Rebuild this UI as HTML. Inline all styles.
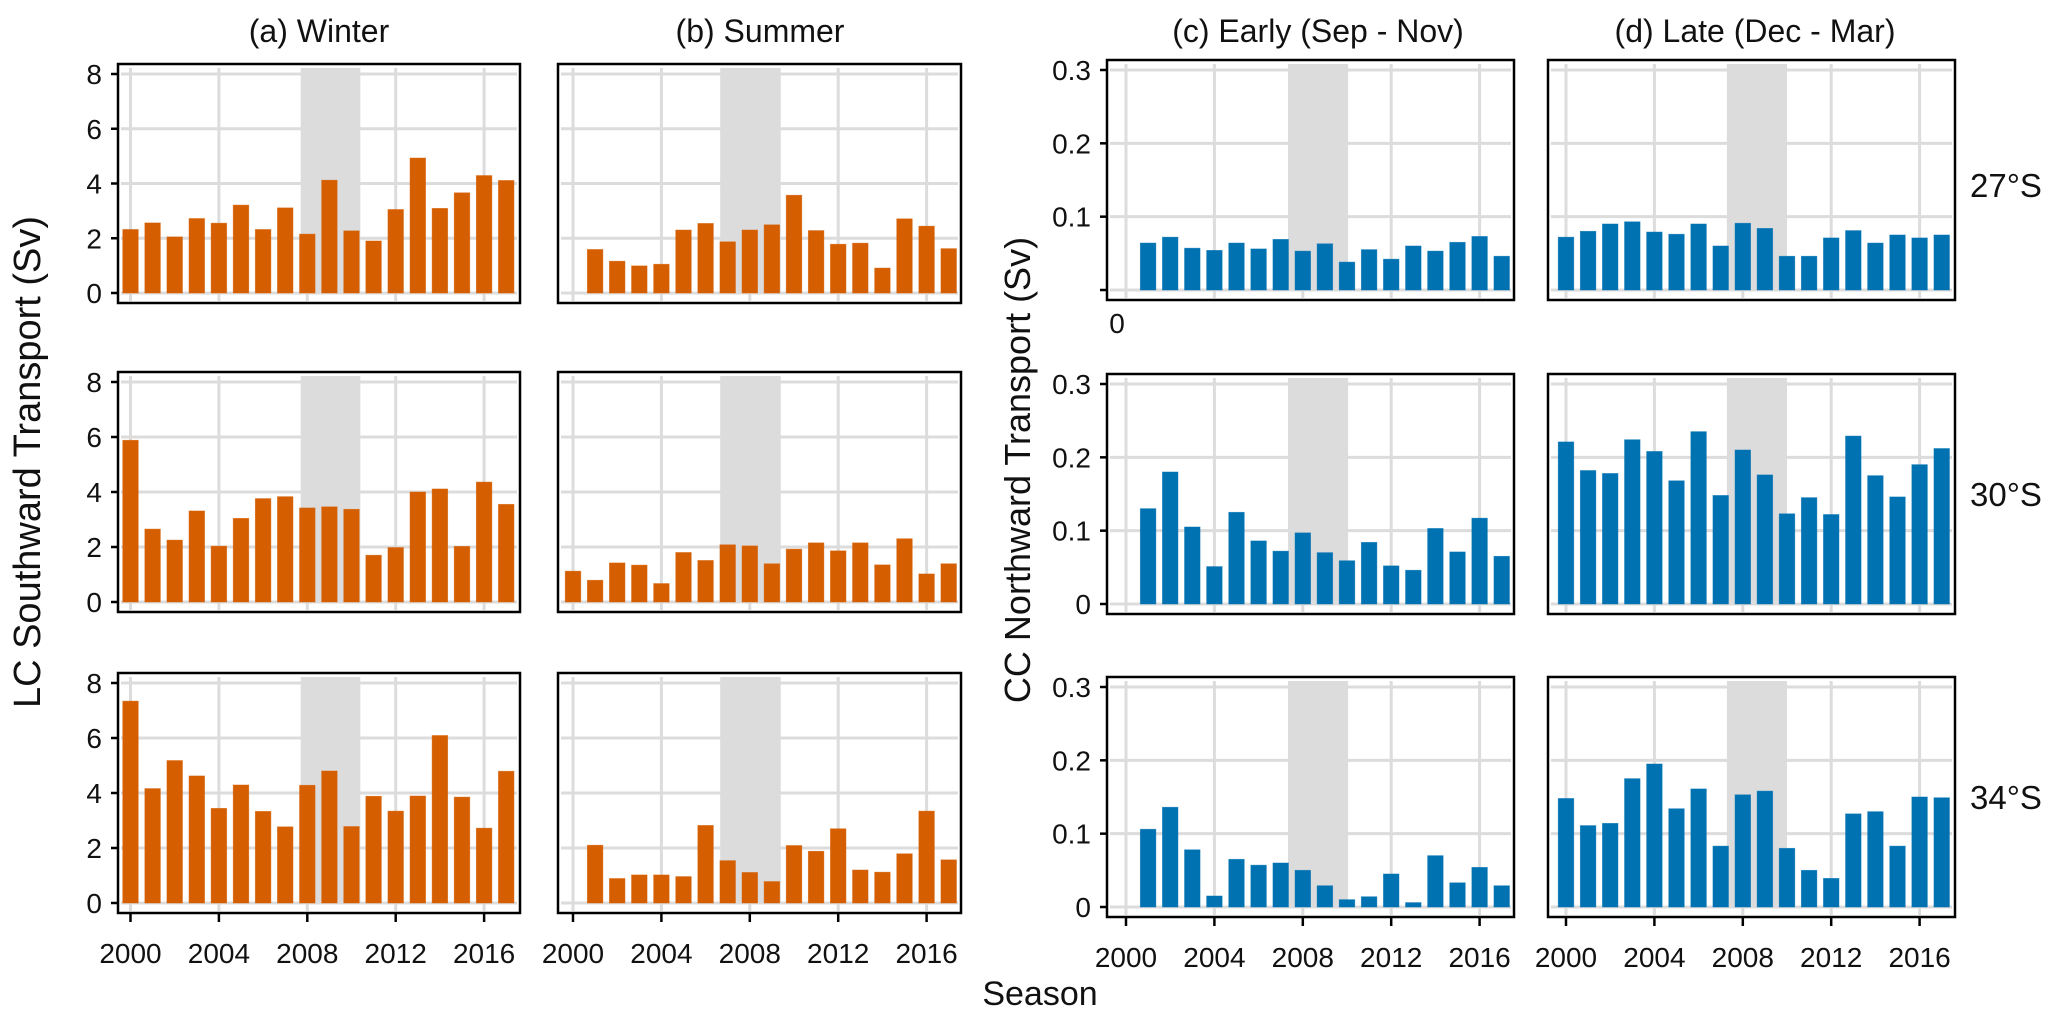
<!DOCTYPE html>
<html>
<head>
<meta charset="utf-8">
<style>
  html,body{margin:0;padding:0;background:#fff;}
  body{width:2067px;height:1022px;overflow:hidden;font-family:"Liberation Sans",Arial,sans-serif;}
  svg text{font-family:"Liberation Sans",Arial,sans-serif;fill:#111;}
</style>
</head>
<body>
<svg id="chart" width="2067" height="1022" viewBox="0 0 2067 1022" xmlns="http://www.w3.org/2000/svg">
  <text x="319" y="42" font-size="32" text-anchor="middle">(a) Winter</text>
  <text x="760" y="42" font-size="32" text-anchor="middle">(b) Summer</text>
  <text x="1318" y="42" font-size="32" text-anchor="middle">(c) Early (Sep - Nov)</text>
  <text x="1755" y="42" font-size="32" text-anchor="middle">(d) Late (Dec - Mar)</text>
  <text x="1970" y="197" font-size="33">27°S</text>
  <text x="1970" y="506" font-size="33">30°S</text>
  <text x="1970" y="809" font-size="33">34°S</text>
  <text x="0" y="0" font-size="38" text-anchor="middle" transform="translate(40,462) rotate(-90)">LC Southward Transport (Sv)</text>
  <text x="0" y="0" font-size="36" text-anchor="middle" transform="translate(1030,470) rotate(-90)">CC Northward Transport (Sv)</text>
  <text x="1040" y="1005" font-size="34" text-anchor="middle">Season</text>
  <text x="1117" y="333" font-size="28" text-anchor="middle">0</text>
  <g id="panels"></g>
</svg>
<script>
// ---- data ----
const winter27 = [2.32,2.56,2.05,2.72,2.55,3.21,2.32,3.11,2.15,4.12,2.27,1.90,3.05,4.93,3.09,3.66,4.29,4.11];
const winter30 = [5.88,2.65,2.25,3.31,2.03,3.04,3.76,3.83,3.42,3.46,3.37,1.70,1.98,4.00,4.11,2.02,4.36,3.55];
const winter34 = [7.34,4.16,5.18,4.62,3.44,4.29,3.33,2.77,4.28,4.80,2.78,3.88,3.34,3.89,6.09,3.85,2.72,4.79];
const summer27 = [1.59,1.16,0.99,1.05,2.30,2.54,1.87,2.30,2.49,3.57,2.28,1.78,1.82,0.91,2.71,2.44,1.62];
const summer30 = [1.12,0.79,1.42,1.34,0.67,1.80,1.51,2.08,2.04,1.39,1.92,2.15,1.86,2.15,1.35,2.30,1.02,1.39];
const summer34 = [2.10,0.89,1.02,1.02,0.96,2.82,1.54,1.11,0.78,2.09,1.88,2.70,1.20,1.12,1.79,3.34,1.57];
const early27 = [0.064,0.072,0.057,0.054,0.064,0.056,0.069,0.053,0.063,0.038,0.055,0.042,0.060,0.053,0.065,0.073,0.046];
const early30 = [0.130,0.180,0.105,0.051,0.125,0.086,0.072,0.097,0.070,0.059,0.084,0.052,0.046,0.103,0.071,0.117,0.065];
const early34 = [0.106,0.136,0.078,0.015,0.065,0.057,0.060,0.050,0.029,0.010,0.014,0.045,0.006,0.070,0.033,0.054,0.029];
const late27 = [0.072,0.080,0.090,0.093,0.079,0.076,0.090,0.060,0.091,0.084,0.046,0.046,0.071,0.081,0.064,0.075,0.071,0.075];
const late30 = [0.221,0.182,0.178,0.224,0.208,0.168,0.235,0.148,0.210,0.176,0.123,0.145,0.122,0.229,0.175,0.146,0.190,0.212];
const late34 = [0.148,0.111,0.114,0.175,0.195,0.134,0.161,0.083,0.153,0.158,0.080,0.050,0.039,0.127,0.130,0.083,0.150,0.149];
const startYears = {winter:2000, summer27:2001, summer30:2000, summer34:2001, early:2001, late:2000};
const xTickYears = [2000,2004,2008,2012,2016];
const lcTicks = [0,2,4,6,8];
const lcTickLabels = ["0","2","4","6","8"];
const ccTicks = [0,0.1,0.2,0.3];
const ccTickLabels = ["","0.1","0.2","0.3"];
const ccTickLabelsLower = ["0","0.1","0.2","0.3"];
const bandWinter = [2007.7,2010.4];
const bandSummer = [2006.66,2009.4];
const bandEarly = [2007.33,2010.05];
const bandLate = [2007.28,2010.0];

// ---- layout ----
const NS = "http://www.w3.org/2000/svg";
const root = document.getElementById('panels');
const cols = {
  a:{L:118,R:520,x0:130.5,p:22.1},
  b:{L:558,R:961,x0:573,p:22.1},
  c:{L:1107,R:1514,x0:1126,p:22.1},
  d:{L:1548,R:1955,x0:1566,p:22.1}
};
const rowsLC = [{yTop:74,y0:293},{yTop:382,y0:602},{yTop:683,y0:903}];
const rowsCC = [{yTop:70,y0:290},{yTop:384,y0:604},{yTop:687,y0:907}];

function mk(tag, attrs){
  const e = document.createElementNS(NS, tag);
  for (const k in attrs) e.setAttribute(k, attrs[k]);
  return e;
}

function drawPanel(name, col, row, vals, start, color, band, ticks, tickMax, labels, showX, bw){
  const g = mk('g', {});
  
  
  root.appendChild(g);
  const top = row.yTop - 10, bottom = row.y0 + 10;
  const ys = v => row.y0 - (v / tickMax) * (row.y0 - row.yTop);
  const xs = yr => col.x0 + (yr - 2000) * col.p;
  for (const t of ticks){
    const l = mk('line', {x1:col.L+3, x2:col.R-3, y1:ys(t), y2:ys(t), stroke:'#dcdcdc', 'stroke-width':3});
    
    
    g.appendChild(l);
  }
  for (const yr of xTickYears){
    const l = mk('line', {x1:xs(yr), x2:xs(yr), y1:top+4, y2:bottom-2, stroke:'#dcdcdc', 'stroke-width':3});
    
    
    g.appendChild(l);
  }
  const b = mk('rect', {x:xs(band[0]), y:top+4, width:xs(band[1])-xs(band[0]), height:row.y0-top-4, fill:'#dcdcdc'});
  
  
  g.appendChild(b);
  vals.forEach((v, i) => {
    const yr = start + i;
    const r = mk('rect', {x:xs(yr)-bw/2, y:ys(v), width:bw, height:row.y0-ys(v), fill:color, stroke:color, 'stroke-opacity':0.6, 'stroke-width':0.8});
    
    
    g.appendChild(r);
  });
  const br = mk('rect', {x:col.L, y:top, width:col.R-col.L, height:bottom-top, fill:'none', stroke:'#000', 'stroke-width':2.5});
  
  
  g.appendChild(br);
  if (labels){
    ticks.forEach((t, i) => {
      const tk = mk('line', {x1:col.L-7, x2:col.L, y1:ys(t), y2:ys(t), stroke:'#000', 'stroke-width':2.5});
      
      
      g.appendChild(tk);
      if (labels[i]){
        const tx = mk('text', {x:col.L-16, y:ys(t)+10, 'font-size':28, 'text-anchor':'end'});
        tx.textContent = labels[i];
        
        
        g.appendChild(tx);
      }
    });
  }
  if (showX){
    for (const yr of xTickYears){
      const tk = mk('line', {x1:xs(yr), x2:xs(yr), y1:bottom, y2:bottom+9, stroke:'#000', 'stroke-width':2.5});
      
      
      g.appendChild(tk);
      const tx = mk('text', {x:xs(yr), y:bottom+50, 'font-size':28, 'text-anchor':'middle'});
      tx.textContent = String(yr);
      
      
      g.appendChild(tx);
    }
  }
}

const ORANGE = '#d55e00', BLUE = '#0072b2';
drawPanel('panel-winter-27s', cols.a, rowsLC[0], winter27, startYears.winter, ORANGE, bandWinter, lcTicks, 8, lcTickLabels, false, 15.5);
drawPanel('panel-winter-30s', cols.a, rowsLC[1], winter30, startYears.winter, ORANGE, bandWinter, lcTicks, 8, lcTickLabels, false, 15.5);
drawPanel('panel-winter-34s', cols.a, rowsLC[2], winter34, startYears.winter, ORANGE, bandWinter, lcTicks, 8, lcTickLabels, true, 15.5);
drawPanel('panel-summer-27s', cols.b, rowsLC[0], summer27, startYears.summer27, ORANGE, bandSummer, lcTicks, 8, null, false, 15.5);
drawPanel('panel-summer-30s', cols.b, rowsLC[1], summer30, startYears.summer30, ORANGE, bandSummer, lcTicks, 8, null, false, 15.5);
drawPanel('panel-summer-34s', cols.b, rowsLC[2], summer34, startYears.summer34, ORANGE, bandSummer, lcTicks, 8, null, true, 15.5);
drawPanel('panel-early-27s', cols.c, rowsCC[0], early27, startYears.early, BLUE, bandEarly, ccTicks, 0.3, ccTickLabels, false, 15.5);
drawPanel('panel-early-30s', cols.c, rowsCC[1], early30, startYears.early, BLUE, bandEarly, ccTicks, 0.3, ccTickLabelsLower, false, 15.5);
drawPanel('panel-early-34s', cols.c, rowsCC[2], early34, startYears.early, BLUE, bandEarly, ccTicks, 0.3, ccTickLabelsLower, true, 15.5);
drawPanel('panel-late-27s', cols.d, rowsCC[0], late27, startYears.late, BLUE, bandLate, ccTicks, 0.3, null, false, 15.5);
drawPanel('panel-late-30s', cols.d, rowsCC[1], late30, startYears.late, BLUE, bandLate, ccTicks, 0.3, null, false, 15.5);
drawPanel('panel-late-34s', cols.d, rowsCC[2], late34, startYears.late, BLUE, bandLate, ccTicks, 0.3, null, true, 15.5);
</script>
</body>
</html>
